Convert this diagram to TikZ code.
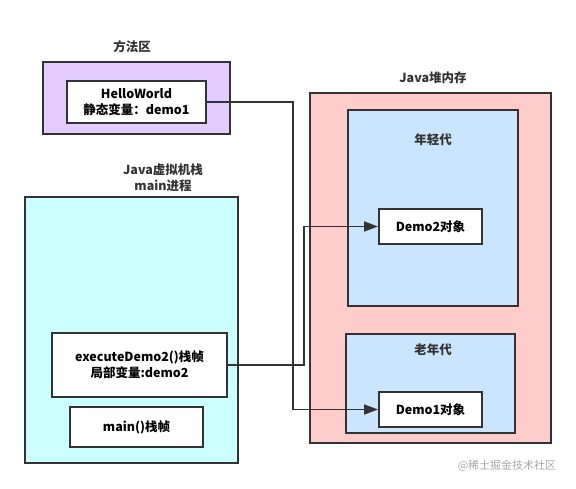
\documentclass[tikz,border=0pt]{standalone}
\usepackage{fontspec}
\setmainfont{Noto Sans CJK SC}
\usepackage{tikz}
\usepackage{xcolor}
\usetikzlibrary{positioning, arrows.meta}

\definecolor{linecol}{HTML}{333333}
\definecolor{methodfill}{HTML}{E5CCFF}
\definecolor{stackfill}{HTML}{CCFFFF}
\definecolor{heapfill}{HTML}{FFCCCC}
\definecolor{genfill}{HTML}{CCE5FF}

\begin{document}
\begin{tikzpicture}[
            x=1pt, y=-1pt,
            font=\fontsize{12.5}{15.5}\selectfont\bfseries,
            area/.style={draw=linecol, line width=2pt, inner sep=0pt},
            box/.style={draw=linecol, fill=white, line width=2pt, inner sep=0pt, align=center},
            title/.style={align=center, text=linecol},
            link/.style={draw=linecol, line width=1.8pt, -{Triangle[length=14pt, width=10pt]}},
        ]
            \useasboundingbox (0,0) rectangle (576,489);
            % method area
            \node[area, fill=methodfill, minimum width=187pt, minimum height=72pt] (method) at (136.5,98) {};
            \node[title] (methodlbl) at (132,47) {方法区};
            \node[box, minimum width=139pt, minimum height=42pt] (hello) at (136.5,102) {HelloWorld\\静态变量：demo1};
            % stack
            \node[area, fill=stackfill, minimum width=213pt, minimum height=266pt] (stack) at (131.5,330) {};
            \node[title] (stacklbl) at (163,178) {Java虚拟机栈\\main进程};
            \node[box, minimum width=175pt, minimum height=64pt] (exec) at (139.5,365) {executeDemo2()栈帧\\局部变量:demo2};
            \node[box, minimum width=133pt, minimum height=40pt] (mainf) at (136.5,427) {main()栈帧};
            % heap
            \node[area, fill=heapfill, minimum width=241pt, minimum height=350pt] (heap) at (430.5,268) {};
            \node[title] (heaplbl) at (433,78) {Java堆内存};
            \node[area, fill=genfill, minimum width=170pt, minimum height=196pt] (young) at (433,208) {};
            \node[title] (younglbl) at (433,140) {年轻代};
            \node[box, minimum width=103pt, minimum height=35pt] (demo2) at (430.5,226.5) {Demo2对象};
            \node[area, fill=genfill, minimum width=169pt, minimum height=99pt] (old) at (430.5,383.5) {};
            \node[title] (oldlbl) at (433,350) {老年代};
            \node[box, minimum width=103pt, minimum height=35pt] (demo1) at (430.5,409.5) {Demo1对象};
            \node[font=\fontsize{11}{13}\selectfont, text=gray!70] (mark) at (507,466) {@稀土掘金技术社区};
            % references
            \draw[link] (hello.east) -- ++(86,0) |- (demo1.west);
            \draw[link] (exec.east) -- ++(76,0) |- (demo2.west);
        \end{tikzpicture}
\end{document}
